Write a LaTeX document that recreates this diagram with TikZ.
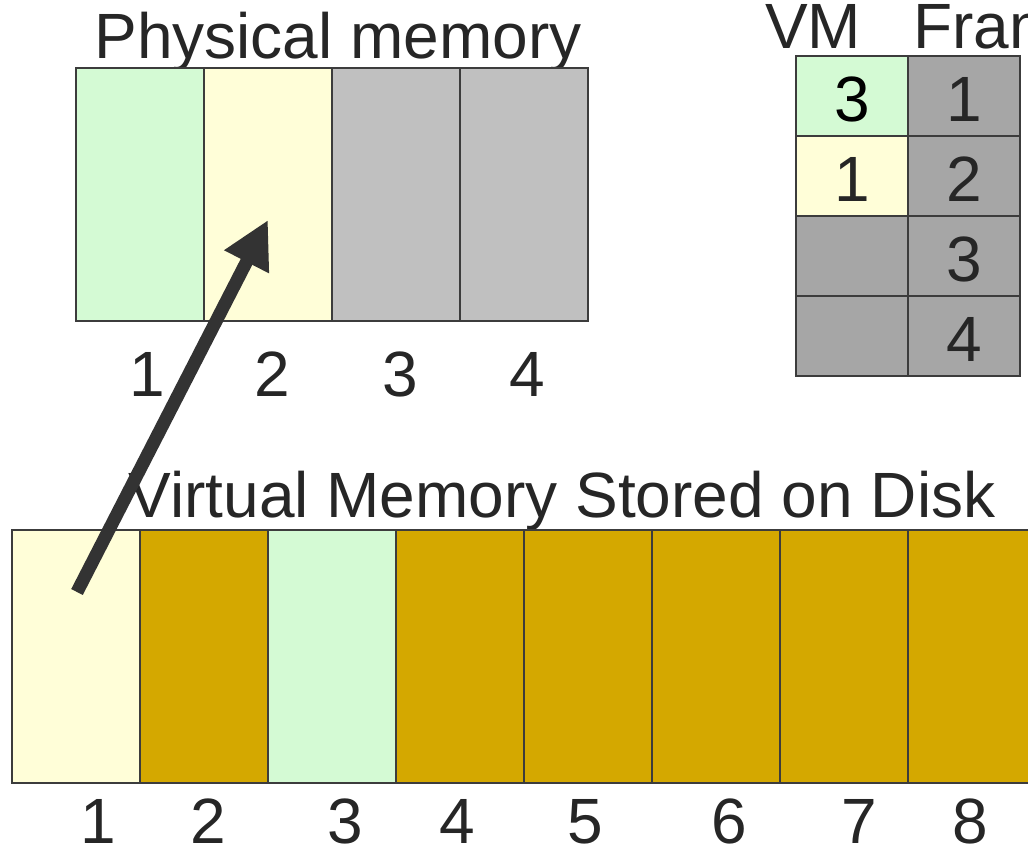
\documentclass[tikz,border=0pt]{standalone}
\usepackage{fontspec}
\setmainfont{Liberation Sans}
\usetikzlibrary{arrows.meta}
\definecolor{pagegreen}{HTML}{D4FAD4}
\definecolor{pageyellow}{HTML}{FFFED8}
\definecolor{framegray}{HTML}{C0C0C0}
\definecolor{tablegray}{HTML}{A6A6A6}
\definecolor{diskgold}{HTML}{D4A800}
\definecolor{edge}{HTML}{3C3C3C}
\definecolor{ink}{HTML}{262626}
\definecolor{arrowink}{HTML}{333333}
\tikzset{
  cell/.style={draw=edge, line width=2pt, inner sep=0pt, outer sep=0pt,
    minimum width=128pt, minimum height=253pt},
  tcell/.style={draw=edge, line width=2pt, inner sep=0pt, outer sep=0pt,
    minimum width=112pt, minimum height=80pt},
  lbl/.style={text=ink, inner sep=0pt, anchor=base,
    font=\fontsize{64}{70}\selectfont},
  hdr/.style={text=ink, inner sep=0pt, anchor=base,
    font=\fontsize{64}{70}\selectfont},
  movearrow/.style={draw=arrowink, line width=13pt,
    -{Triangle[length=47pt,width=47pt]}}
}
\begin{document}
\begin{tikzpicture}[x=1pt,y=-1pt]
\clip (0,0) rectangle (1028,847);
\fill[white] (0,0) rectangle (1028,847);

% physical memory frames
\node[lbl] (ptitle) at (338,58) {Physical memory};
\node[cell, fill=pagegreen]  (p1) at (140,194.5) {};
\node[cell, fill=pageyellow] (p2) at (268,194.5) {};
\node[cell, fill=framegray]  (p3) at (396,194.5) {};
\node[cell, fill=framegray]  (p4) at (524,194.5) {};
\node[lbl] (pl1) at (147,396) {1};
\node[lbl] (pl2) at (272,396) {2};
\node[lbl] (pl3) at (400,396) {3};
\node[lbl] (pl4) at (527,396) {4};

% page table
\node[hdr] (hvm) at (813,48) {VM};
\node[hdr, anchor=base west] (hfr) at (913,48) {Frame};
\node[tcell, fill=pagegreen]  (t11) at (852,96) {};
\node[tcell, fill=tablegray]  (t12) at (964,96) {};
\node[tcell, fill=pageyellow] (t21) at (852,176) {};
\node[tcell, fill=tablegray]  (t22) at (964,176) {};
\node[tcell, fill=tablegray]  (t31) at (852,256) {};
\node[tcell, fill=tablegray]  (t32) at (964,256) {};
\node[tcell, fill=tablegray]  (t41) at (852,336) {};
\node[tcell, fill=tablegray]  (t42) at (964,336) {};
\node[lbl, text=black] (v1) at (852,121) {3};
\node[lbl] (v2) at (852,201) {1};
\node[lbl] (f1) at (964,121) {1};
\node[lbl] (f2) at (964,201) {2};
\node[lbl] (f3) at (964,281) {3};
\node[lbl] (f4) at (964,361) {4};

% virtual memory on disk
\node[lbl] (vtitle) at (562,517) {Virtual Memory Stored on Disk};
\node[cell, fill=pageyellow] (d1) at (76,656.5) {};
\node[cell, fill=diskgold]   (d2) at (204,656.5) {};
\node[cell, fill=pagegreen]  (d3) at (332,656.5) {};
\node[cell, fill=diskgold]   (d4) at (460,656.5) {};
\node[cell, fill=diskgold]   (d5) at (588,656.5) {};
\node[cell, fill=diskgold]   (d6) at (716,656.5) {};
\node[cell, fill=diskgold]   (d7) at (844,656.5) {};
\node[cell, fill=diskgold]   (d8) at (972,656.5) {};
\node[lbl] (dl1) at (98,843) {1};
\node[lbl] (dl2) at (208,843) {2};
\node[lbl] (dl3) at (345,843) {3};
\node[lbl] (dl4) at (457,843) {4};
\node[lbl] (dl5) at (585,843) {5};
\node[lbl] (dl6) at (729,843) {6};
\node[lbl] (dl7) at (859,843) {7};
\node[lbl] (dl8) at (970,843) {8};

% page 1 is brought into frame 2
\coordinate (src) at (77,592);
\coordinate (dst) at (268,220);
\draw[movearrow] (src) -- (dst);
\end{tikzpicture}
\end{document}
